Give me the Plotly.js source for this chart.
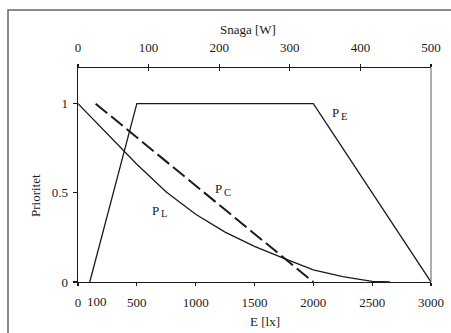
<!DOCTYPE html>
<html><head><meta charset="utf-8">
<script src="https://cdn.plot.ly/plotly-3.0.1.min.js"></script>
<style>html,body{margin:0;padding:0;background:#fff}#c{width:451px;height:333px}</style>
</head><body><div id="c"></div>
<script>
// Data
const peE = [100, 500, 2000, 3000];
const peP = [0, 1, 1, 0];
const plE = [0, 250, 500, 750, 1000, 1250, 1500, 1750, 2000, 2250, 2500, 2650];
const plP = [1.0, 0.83, 0.66, 0.505, 0.38, 0.28, 0.20, 0.133, 0.068, 0.030, 0.004, 0];
const pcE = [150, 2000];
const pcP = [1, 0];
const xTicks = [0, 500, 1000, 1500, 2000, 2500, 3000];
const xTickText = ['0', '500', '1000', '1500', '2000', '2500', '3000'];
const topTicks = [0, 100, 200, 300, 400, 500];
const yTicks = [0, 0.5, 1];
const yTickText = ['0', '0.5', '1'];

const L = 78, R = 431, T = 68, B = 282;
const px = x => (x - L) / (R - L);
const py = y => (B - y) / (B - T);
const FONT = 'Liberation Serif';
const ink = '#1a1a1a';

const solid = {color: ink, width: 1.3};
const traces = [
  {x: peE, y: peP, mode: 'lines', line: solid, hoverinfo: 'skip'},
  {x: plE, y: plP, mode: 'lines', line: solid, hoverinfo: 'skip'},
  {x: pcE, y: pcP, mode: 'lines', line: {color: ink, width: 2, dash: '15px,5px'}, hoverinfo: 'skip'},
  {x: [0], y: [0], xaxis: 'x2', mode: 'markers', marker: {opacity: 0}, hoverinfo: 'skip'},
  {x: [0], y: [0], xaxis: 'x3', mode: 'markers', marker: {opacity: 0}, hoverinfo: 'skip'}
];

const axFont = {family: FONT, size: 13, color: ink};
const subFont = {family: FONT, size: 10.5, color: ink};
function ann(x, y, text, extra) {
  return Object.assign({xref: 'paper', yref: 'paper', x: px(x), y: py(y), text: text, showarrow: false,
    font: axFont, xanchor: 'center', yanchor: 'middle'}, extra || {});
}
const layout = {
  width: 451, height: 333,
  margin: {l: L, r: 451 - R, t: T, b: 333 - B, pad: 0},
  paper_bgcolor: '#fff', plot_bgcolor: '#fff',
  showlegend: false,
  font: {family: FONT, size: 13, color: ink},
  xaxis: {range: [0, 3000], tickvals: xTicks, ticktext: xTickText, showgrid: false, zeroline: false,
          showline: true, linecolor: ink, linewidth: 1.3, ticks: 'outside', ticklen: 3, tickwidth: 1.2,
          tickcolor: ink, tickfont: axFont, ticklabelstandoff: 5},
  xaxis2: {range: [0, 500], overlaying: 'x', side: 'top', tickvals: topTicks, showgrid: false, zeroline: false,
           showline: true, linecolor: ink, linewidth: 1.3, ticks: 'outside', ticklen: 3, tickwidth: 1.2,
           tickcolor: ink, tickfont: axFont, ticklabelstandoff: 7},
  xaxis3: {range: [0, 500], overlaying: 'x', side: 'top', tickvals: topTicks, showgrid: false, zeroline: false,
           showline: false, ticks: 'inside', ticklen: 3, tickwidth: 1.2, tickcolor: ink, showticklabels: false},
  yaxis: {range: [0, 1.2], tickvals: yTicks, ticktext: yTickText, showgrid: false, zeroline: false,
          showline: true, linecolor: ink, linewidth: 1.3, ticks: 'outside', ticklen: 4, tickwidth: 1.2,
          tickcolor: ink, tickfont: axFont, ticklabelstandoff: 2},
  shapes: [
    {type: 'line', xref: 'paper', yref: 'paper', x0: 1, x1: 1, y0: 0, y1: 1, line: {color: '#777', width: 1.2}},
    {type: 'rect', xref: 'paper', yref: 'paper', x0: px(8), x1: px(470), y0: py(345), y1: py(10),
     line: {color: '#666', width: 1.5}}
  ],
  annotations: [
    ann(248, 29, 'Snaga [W]'),
    ann(265, 321, 'E [lx]'),
    ann(35, 196, 'Prioritet', {textangle: -90}),
    ann(97, 301, '100'),
    ann(335, 112.5, 'P'), ann(344, 116.5, 'E', {font: subFont}),
    ann(218.5, 188.3, 'P'), ann(227, 192, 'C', {font: subFont}),
    ann(155, 210, 'P'), ann(163.5, 213.7, 'L', {font: subFont})
  ]
};
Plotly.newPlot('c', traces, layout, {staticPlot: true, displayModeBar: false});
</script></body></html>
